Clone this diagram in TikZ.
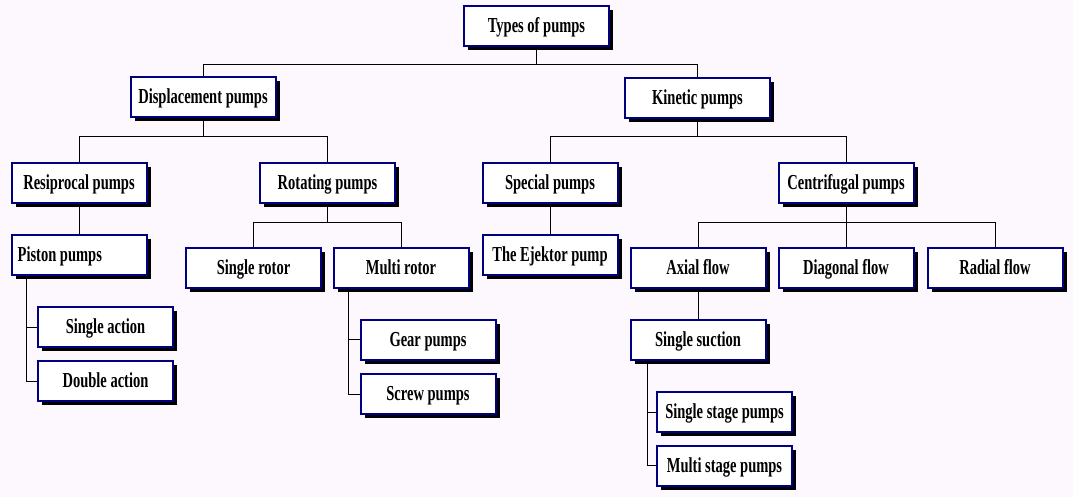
\documentclass[tikz,border=0pt]{standalone}
\usepackage{fontspec}
\setmainfont{Liberation Serif}[FakeStretch=0.68]
\usetikzlibrary{shadows}
\definecolor{bgpink}{RGB}{253,248,253}
\definecolor{boxnavy}{RGB}{0,0,128}

\begin{document}
\begin{tikzpicture}[x=0.75pt,y=-0.75pt,
    pumpbox/.style={draw=boxnavy,line width=1.5pt,fill=white,
      minimum width=101.25pt,minimum height=30pt,inner sep=4pt,
      text height=12pt,text depth=2.25pt,
      font=\bfseries\fontsize{16pt}{18pt}\selectfont,
      drop shadow={shadow xshift=3pt,shadow yshift=-3pt,fill=black,opacity=1},
      append after command={
        [draw=boxnavy,line width=0.75pt]
        ([shift={(1.875pt,-1.875pt)}]\tikzlastnode.north west) rectangle
        ([shift={(-1.875pt,1.875pt)}]\tikzlastnode.south east)}},
    widebox/.style={pumpbox,minimum width=108.75pt},
    link/.style={draw=black,line width=0.75pt}]
    \fill[bgpink] (0,0) rectangle (1073,497);
    % top levels
    \node[widebox] (types) at (536.5,25.5) {Types of pumps};
    \node[widebox] (disp) at (203,97) {Displacement pumps};
    \node[widebox] (kin) at (697.5,97.5) {Kinetic pumps};
    \node[pumpbox] (resip) at (79,183) {Resiprocal pumps};
    \node[pumpbox] (rot) at (327.5,183) {Rotating pumps};
    \node[pumpbox] (spec) at (550,183) {Special pumps};
    \node[pumpbox] (centr) at (846,183) {Centrifugal pumps};
    % third row
    \node[pumpbox] (piston) at (79,255) {\hbox to 92pt{Piston pumps\hfil}};
    \node[pumpbox] (ejek) at (550,255) {The Ejektor pump};
    \node[pumpbox] (srotor) at (253.5,267.5) {Single rotor};
    \node[pumpbox] (mrotor) at (401,267.5) {Multi rotor};
    \node[pumpbox] (axial) at (698,267.5) {Axial flow};
    \node[pumpbox] (diag) at (846,267.5) {Diagonal flow};
    \node[pumpbox] (radial) at (995,267.5) {Radial flow};
    % lower boxes
    \node[pumpbox] (sact) at (105.5,327) {Single action};
    \node[pumpbox] (dact) at (105.5,381) {Double action};
    \node[pumpbox] (gear) at (428,339.5) {Gear pumps};
    \node[pumpbox] (screw) at (428,394) {Screw pumps};
    \node[pumpbox] (ssuct) at (698,339.5) {Single suction};
    \node[pumpbox] (sstage) at (724.5,412) {Single stage pumps};
    \node[pumpbox] (mstage) at (724.5,465.5) {Multi stage pumps};

    \foreach \p/\c in {types/disp,types/kin,disp/resip,disp/rot,kin/spec,kin/centr,
        rot/srotor,rot/mrotor,centr/axial,centr/radial}
      \draw[link] (\p.south) -- ++(0,18) -| (\c.north);
    \foreach \p/\c in {resip/piston,spec/ejek,centr/diag,axial/ssuct}
      \draw[link] (\p.south) -- (\c.north);
    \draw[link] ([xshift=12pt]piston.south west) |- (sact.west);
    \draw[link] ([xshift=12pt]piston.south west) |- (dact.west);
    \draw[link] ([xshift=12pt]mrotor.south west) |- (gear.west);
    \draw[link] ([xshift=12pt]mrotor.south west) |- (screw.west);
    \draw[link] ([xshift=13.5pt]ssuct.south west) |- (sstage.west);
    \draw[link] ([xshift=13.5pt]ssuct.south west) |- (mstage.west);
\end{tikzpicture}
\end{document}
